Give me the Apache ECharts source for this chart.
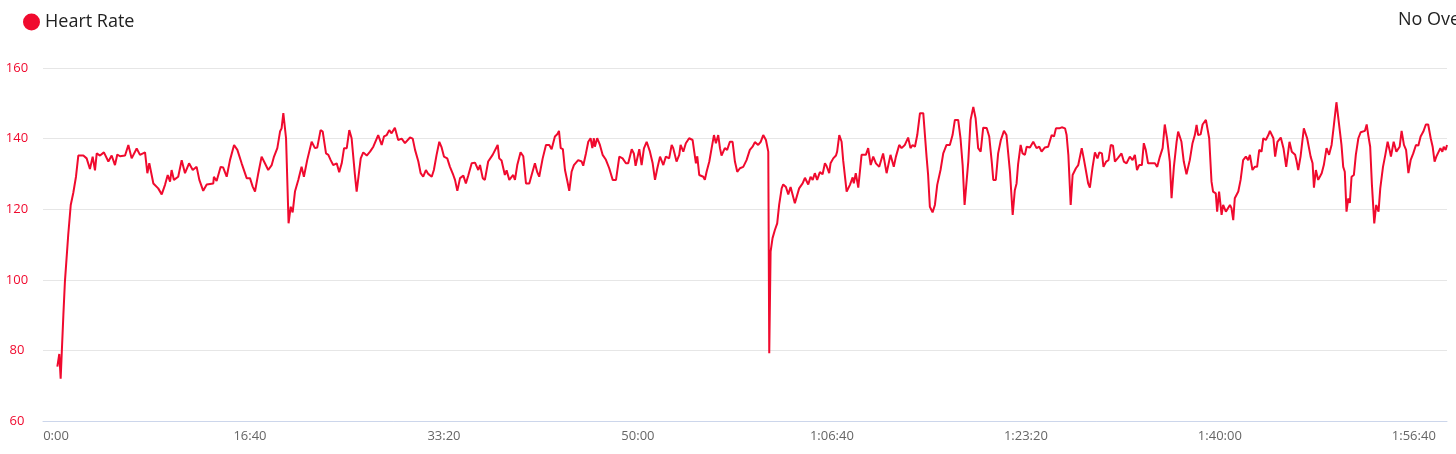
<!DOCTYPE html>
<html><head><meta charset="utf-8">
<script src="https://cdn.jsdelivr.net/npm/echarts@6/dist/echarts.min.js"></script>
<style>html,body{margin:0;padding:0;background:#fff}#c{width:1456px;height:454px}</style>
</head><body><div id="c"></div>
<script>
const seriesName = "Heart Rate";
const overlayLabel = "No Overlay";
const xTickValues = [0, 1000, 2000, 3000, 4000, 5000, 6000, 7000];
const yTickValues = [60, 80, 100, 120, 140, 160];
const secs = [7,17,24,38,46,63,76,89,103,115,141,158,175,189,201,210,227,247,270,287,304,316,330,356,373,390,416,433,459,471,481,502,527,545,562,576,588,596,608,630,648,665,686,705,725,739,759,777,
811,814,828,849,862,880,897,918,935,957,983,1000,1014,1026,1043,1060,1077,1094,1112,1124,1141,1155,1163,1172,1186,1199,1210,1220,1232,1249,1266,1278,1295,1318,1335,1347,1364,1375,1392,1404,1416,1429,1447,1460,1473,1485,1499,1512,1524,1541,1550,1560,1571,1584,1602,1619,
1636,1661,1679,1691,1705,1718,1730,1747,1764,1782,1799,1825,1839,1851,1868,1880,1893,1907,1919,1937,1948,1962,1976,1988,2000,2017,2031,2048,2057,2069,2083,2100,2113,2125,2143,2160,2177,2186,2200,2211,2228,2251,2277,2285,2297,2314,2323,2337,2357,2366,2378,2395,2409,2423,2440,
2452,2460,2469,2481,2491,2509,2526,2543,2555,2572,2584,2593,2602,2613,2624,2636,2646,2658,2670,2680,2692,2710,2718,2732,2744,2756,2765,2773,2778,2790,2804,2818,2835,2852,2870,2887,2904,2921,2938,2950,2968,2979,2988,2997,3007,3019,3031,3045,3062,3076,3088,3100,3114,3122,3131,3144,3161,3174,3182,3199,3213,3220,
3234,3247,3264,3282,3289,3299,3306,3316,3337,3345,3354,3368,3380,3392,3402,3414,3423,3431,3448,3460,3474,3488,3500,3512,3526,3543,3560,3577,3591,3603,3620,3633,3646,3660,3672,3677,3684,3694,3706,3718,3728,3741,3749,3763,3775,3787,3797,3809,3818,3831,3849,3861,3878,3890,3901,3912,3924,3938,3952,3964,3972,3986,3993,4007,4021,4027,4038,4050,
4058,4076,4093,4107,4113,4123,4136,4153,4175,4187,4200,4213,4227,4244,4264,4282,4302,4319,4330,4347,4359,4376,4393,4405,4416,4428,4440,4454,4471,4488,4496,4505,4519,4531,4543,4560,4574,4591,4608,4622,4634,4651,4663,4674,4684,4703,4715,4729,4741,4754,4767,4780,4798,4811,4824,4832,4845,4857,4871,4887,4900,
4918,4932,4943,4952,4960,4973,4983,4995,5004,5021,5038,5055,5069,5081,5098,5115,5124,5133,5145,5155,5172,5185,5202,5210,5219,5231,5241,5258,5270,5288,5299,5309,5321,5330,5344,5356,5369,5379,5392,5400,5414,5426,5438,5449,5459,5476,5493,5505,5519,5536,5550,5562,5573,5584,5598,5608,5618,5630,5647,5665,5677,5691,5705,5716,5728,
5742,5751,5763,5777,5785,5802,5814,5828,5845,5859,5871,5880,5888,5901,5911,5928,5945,5957,5965,5979,5986,5996,6009,6017,6031,6052,6060,6069,6077,6095,6107,6120,6134,6146,6155,6168,6180,6192,6203,6215,6224,6237,6250,6258,6276,6285,6297,6314,6328,6342,6359,6371,6388,6396,6404,6416,
6433,6438,6450,6460,6468,6478,6485,6495,6507,6525,6536,6550,6563,6576,6588,6601,6610,6619,6627,6636,6644,6653,6662,6670,6679,6691,6701,6714,6726,6748,6757,6765,6775,6784,6796,6806,6818,6827,6841,6853,6865,6875,6882,6896,6910,6927,6937,6949,6960,6972,6984,6997,7011,7023,7035,7049,7062,7074,7087,7097,7107,7116,7124,7137,7147,7154,7164,7171];
const bpm = [75.4,79,72,90,99.5,112.7,121.2,124.6,129.2,135.2,135.2,134.4,131.4,134.9,131,135.8,135.2,136.1,133.5,135.2,132.5,135.5,135,135.2,138.2,134.4,137.2,135.4,136.1,130.2,133,127.3,125.9,124.2,126.9,129.7,127.8,131.1,128.3,129.2,133.9,130.2,133,131.1,132,128.3,125.2,127,
127.3,129.2,128,132,131.8,129.2,133.9,138.2,136.8,133,128.8,128.8,126.4,125,130.2,134.9,133,131.1,132.5,134.9,137.3,142,142.9,147.2,140.1,116,120.7,119.1,125,128.3,132,129.2,133.9,139.1,137.3,137.5,142.4,142,135.8,135.4,133.9,132.5,133,130.5,133,137.3,137.3,142.4,140.1,129.7,125,125,134.4,136.1,135.2,136.3,
137.7,141,138.2,140.6,141,142.4,141.5,143.1,139.6,140,138.7,140.3,140,136.8,133.5,130.2,129.2,131.1,130,129.2,131.1,135.4,139.1,137.5,134.9,134.4,132,129.7,128.3,125.2,128.8,129.5,127.3,129.5,133,133.2,131.1,132.5,128.8,128.3,133.5,135.4,138.2,134.4,133.8,129.7,131,128.3,129.7,128.3,132.5,136.1,135,127.3,127.3,
129.7,130,133,130.5,129.2,134.4,138.2,138.2,137,140.6,141.2,142.2,137.3,137,131.1,128,125.2,130.6,132.5,132,133.9,133.5,132.3,135.8,139.1,140.1,137.3,140.1,137.7,140.1,138.2,135.4,134,131.6,128.3,128.3,134.9,134.4,133,133,137,135.8,132.3,132.3,137,132.5,137.2,139.1,136.3,133,128.3,131.6,134.9,134.4,132.5,134.9,134.4,138.2,137.3,133.5,135.4,138.2,
136.3,138.7,140.1,139.6,136.8,133,135,129.7,129.2,128.3,130.6,133.5,137.3,141,138.7,141,137.3,135.2,137.3,136.8,139.1,139.1,133.5,130.6,131.6,132,133.9,136.8,137.7,139,138.2,139.1,141,139.6,136.3,79.2,108,111.8,114.1,116,121.2,125.9,127,126.3,124.2,126.3,126.3,121.7,121.2,125.9,127.3,128.9,127,129.2,128.3,130.2,128.3,130.5,129.9,133,132.3,130.2,133,134.4,135.2,136.3,141,139.1,
133.9,125,126.9,129,127.3,130.2,126.1,135.4,135.4,137.3,132.5,134.9,133,132,135.8,130.2,135.4,132,134.9,138.2,137.3,138.2,140.3,137.3,138.2,137.7,141,147.2,147.2,134.9,129.7,120.7,119.1,121.2,126.9,131.1,135.8,138.2,138.2,141,145.3,145.3,140.1,132.5,121.2,133.5,145.3,149,145.7,137.3,136.3,143.1,143,140.6,133.5,128.3,128.3,135.8,139.6,142.2,141,
130.6,118.4,125.4,127.3,132.8,138.2,135.8,135.4,137.7,137.5,139.1,137.3,137.7,136.3,137.5,137.7,138.2,141,140.6,142.9,142.9,143.2,142.9,141,135.4,121.2,129.7,131.6,132.5,137.3,134.2,131.1,127.3,126.1,132,136.1,134.4,136.1,135.8,132,133.5,133.9,138.2,138,133.5,134.6,135.8,133.5,133,134.9,133.9,135.4,131.1,132.5,132.5,138.7,136.8,133,133,133,132,134.9,137.3,144,140,
133.5,123.1,132,139.1,142,139.1,133.5,129.9,133.9,138.7,141,143.9,141,141.2,144,145.3,140.1,127.8,125,124.5,119.3,125,118.4,121.2,119.3,121.2,120.3,116.9,123.1,125,128.3,133.9,134.9,133.9,135.4,131.1,132,132,136.8,136.3,140.1,139.6,141,142.2,140.1,134.9,139.1,140.3,137.3,132,139.1,136.3,135.4,133.5,131.1,134.9,
142.9,143.1,140.1,140.1,134.9,133,126.1,131.1,128.3,130.2,132.5,137.3,135.4,138.2,143.9,150.3,150.1,142,138.2,132,130.6,119.3,123.1,121.8,129.2,129.7,135.4,140.1,141.8,142.2,144,141,137.7,126.9,116,121.2,119.3,125.9,132,135.4,139.1,136.8,134.9,139.1,136.3,137.7,142.2,138.2,136.8,130.2,134,135.8,138.2,138,140.6,142,144,144,140.1,137.7,133.5,134.9,135.4,137.3,136.3,137.7,136.8,138.2];

function fmtTime(s) {
  const h = Math.floor(s / 3600), m = Math.floor((s % 3600) / 60), sec = s % 60;
  const ss = String(sec).padStart(2, '0');
  if (h > 0) return h + ':' + String(m).padStart(2, '0') + ':' + ss;
  return m + ':' + ss;
}

const RED = '#f00a2e';
const data = secs.map((t, i) => [t, bpm[i]]);
const chart = echarts.init(document.getElementById('c'), null, {renderer: 'canvas'});
chart.setOption({
  animation: false,
  backgroundColor: '#ffffff',
  textStyle: {fontFamily: 'Open Sans'},
  legend: {
    left: 23, top: 13, padding: 0, icon: 'circle', itemWidth: 17, itemHeight: 17, itemGap: 5,
    textStyle: {fontSize: 18, color: '#222', fontFamily: 'Open Sans', padding: [2, 0, 0, 0]},
    data: [{name: seriesName, itemStyle: {color: RED}}]
  },
  graphic: [{
    type: 'text', left: 1398, top: 11,
    style: {text: overlayLabel, fontSize: 18, fill: '#222', fontFamily: 'Open Sans'}
  }],
  grid: {left: 43, right: 9, top: 68, bottom: 33, containLabel: false},
  xAxis: {
    type: 'value', min: -67, max: 7171,
    axisLine: {show: true, lineStyle: {color: '#ccd6eb', width: 1}},
    axisTick: {show: false},
    splitLine: {show: false},
    axisLabel: {customValues: xTickValues, formatter: v => fmtTime(v), color: '#666', fontSize: 13, margin: 9, fontFamily: 'Open Sans'}
  },
  yAxis: {
    type: 'value', min: 60, max: 160, interval: 20,
    axisLine: {show: false}, axisTick: {show: false},
    splitLine: {lineStyle: {color: '#e6e6e6', width: 1}},
    axisLabel: {color: RED, fontSize: 13, align: 'center', margin: 26, fontFamily: 'Open Sans'}
  },
  series: [{
    name: seriesName, type: 'line', data: data, showSymbol: false,
    lineStyle: {color: RED, width: 2}, itemStyle: {color: RED}
  }]
});
</script></body></html>
